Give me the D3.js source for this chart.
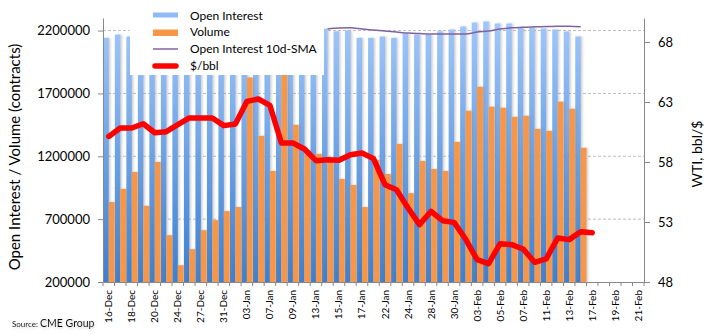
<html>
<head>
<style>
body { margin: 0; background: #fff; }
text { font-family: "Lato", "Open Sans", sans-serif; }
</style>
</head>
<body>
<div id="chart"></div>
<script src="https://d3js.org/d3.v7.min.js"></script>
<script>

// trading days shown on the category axis
var dates = ["16-Dec","17-Dec","18-Dec","19-Dec","20-Dec","23-Dec","24-Dec","26-Dec","27-Dec","30-Dec","31-Dec",
  "02-Jan","03-Jan","06-Jan","07-Jan","08-Jan","09-Jan","10-Jan","13-Jan","14-Jan","15-Jan","16-Jan","17-Jan",
  "21-Jan","22-Jan","23-Jan","24-Jan","27-Jan","28-Jan","29-Jan","30-Jan","31-Jan",
  "03-Feb","04-Feb","05-Feb","06-Feb","07-Feb","10-Feb","11-Feb","12-Feb","13-Feb","14-Feb",
  "17-Feb","18-Feb","19-Feb","20-Feb","21-Feb"]

// contracts, 16-Dec .. 14-Feb
var openInterest = [2142000,2168000,2152000,2160000,2175000,2180000,2150000,2120000,2135000,2150000,2165000,
  2170000,2190000,2185000,2200000,2210000,2205000,2215000,2220000,2213000,2194000,2200000,2142000,
  2142000,2152000,2142000,2174000,2168000,2168000,2194000,2208000,2232000,
  2264000,2272000,2256000,2256000,2224000,2224000,2216000,2208000,2192000,2152000]

var volume = [836000,940000,1075000,806000,1155000,572000,333000,461000,612000,692000,764000,
  796000,1827000,1362000,1083000,1880000,1450000,1250000,1219000,1176000,1019000,971000,796000,
  1171000,1059000,1298000,907000,1163000,1099000,1083000,1314000,1562000,
  1753000,1594000,1586000,1514000,1522000,1418000,1402000,1634000,1578000,1267000]

// 10-day moving average of open interest, 14-Jan .. 14-Feb
var smaStart = 19
var sma = [2213000,2220000,2222000,2212000,2204000,2196000,2188000,2180000,2176000,2173000,2173000,
  2173000,2173000,2188000,2196000,2212000,2222000,2226000,2230000,2232000,2235000,2235000,2230000]

// WTI front month, $/bbl, 16-Dec .. 17-Feb
var price = [60.13,60.83,60.83,61.19,60.44,60.53,61.11,61.67,61.67,61.67,61.03,
  61.17,63.05,63.25,62.72,59.58,59.58,59.08,58.11,58.19,58.14,58.61,58.75,
  58.28,56.11,55.69,54.17,52.78,53.89,53.11,52.97,51.58,
  49.86,49.53,51.19,51.11,50.75,49.64,49.92,51.67,51.53,52.19,52.11]

var leftTicks = [200000,700000,1200000,1700000,2200000]
var rightTicks = [48,53,58,63,68]

var blue1 = "#a2c8fc", blue2 = "#3a7fd0"
var orange = "#f79646"
var purple = "#7f63a1"
var red = "#ff0000"
var axisGrey = "#888"

var W = 712, H = 335
var margin = {top: 18, right: 68, bottom: 53, left: 103}

var svg = d3.select("#chart").append("svg")
  .attr("width", W)
  .attr("height", H)

var defs = svg.append("defs")
var grad = defs.append("linearGradient")
  .attr("id", "oiGrad")
  .attr("gradientUnits", "userSpaceOnUse")
  .attr("x1", 0).attr("x2", 0)
  .attr("y1", margin.top).attr("y2", H - margin.bottom)
grad.append("stop").attr("offset", "0%").attr("stop-color", blue1)
grad.append("stop").attr("offset", "100%").attr("stop-color", blue2)

var shadow = defs.append("filter").attr("id", "barShadow")
  .attr("x", "-20%").attr("y", "-5%").attr("width", "160%").attr("height", "110%")
shadow.append("feDropShadow")
  .attr("dx", 1.5).attr("dy", 0).attr("stdDeviation", 1)
  .attr("flood-color", "#888").attr("flood-opacity", 0.45)

var glow = defs.append("filter").attr("id", "srcGlow")
glow.append("feDropShadow")
  .attr("dx", 1).attr("dy", 1).attr("stdDeviation", 1.5)
  .attr("flood-color", "#999").attr("flood-opacity", 0.6)

var x = d3.scaleBand()
  .domain(dates)
  .range([margin.left, W - margin.right])
  .padding(0)
var bw = x.bandwidth()

var yL = d3.scaleLinear()
  .domain([200000, 2300000])
  .range([H - margin.bottom, margin.top])

var yR = d3.scaleLinear()
  .domain([48, 70])
  .range([H - margin.bottom, margin.top])

// dashed gridlines
svg.append("g").selectAll("line.grid")
  .data(leftTicks.slice(1))
  .enter().append("line")
  .attr("class", "grid")
  .attr("x1", margin.left).attr("x2", W - margin.right)
  .attr("y1", d => yL(d)).attr("y2", d => yL(d))
  .style("stroke", "#bdbdbd")
  .style("stroke-dasharray", "3,2")

// open interest bars (left half of each day)
svg.append("g").attr("filter", "url(#barShadow)")
  .selectAll("rect")
  .data(openInterest)
  .enter().append("rect")
  .attr("x", (d, i) => x(dates[i]) + bw * 0.03)
  .attr("width", bw * 0.47)
  .attr("y", d => yL(d))
  .attr("height", d => yL(200000) - yL(d))
  .attr("fill", "url(#oiGrad)")

// volume bars (right half)
svg.append("g").attr("filter", "url(#barShadow)")
  .selectAll("rect")
  .data(volume)
  .enter().append("rect")
  .attr("x", (d, i) => x(dates[i]) + bw * 0.5)
  .attr("width", bw * 0.5)
  .attr("y", d => yL(d))
  .attr("height", d => yL(200000) - yL(d))
  .attr("fill", orange)

// 10d SMA
var smaLine = d3.line()
  .x((d, i) => x(dates[i + smaStart]) + bw / 2)
  .y(d => yL(d))
  .curve(d3.curveMonotoneX)

svg.append("path")
  .datum(sma)
  .attr("d", smaLine)
  .attr("fill", "none")
  .attr("stroke", purple)
  .attr("stroke-width", 1.5)

// price line on right axis
var priceLine = d3.line()
  .x((d, i) => x(dates[i]) + bw / 2)
  .y(d => yR(d))

svg.append("path")
  .datum(price)
  .attr("d", priceLine)
  .attr("fill", "none")
  .attr("stroke", red)
  .attr("stroke-width", 5.5)
  .attr("stroke-linejoin", "round")
  .attr("stroke-linecap", "round")

// axes
var leftAxis = d3.axisLeft(yL)
  .tickValues(leftTicks)
  .tickFormat(d3.format("d"))
  .tickSize(5)
  .tickSizeOuter(0)
  .tickPadding(8)

var gl = svg.append("g")
  .attr("transform", "translate(" + margin.left + ",0)")
  .call(leftAxis)

var rightAxis = d3.axisRight(yR)
  .tickValues(rightTicks)
  .tickSize(6)
  .tickSizeOuter(0)
  .tickPadding(8)

var gr = svg.append("g")
  .attr("transform", "translate(" + (W - margin.right) + ",0)")
  .call(rightAxis)

var bottomAxis = d3.axisBottom(x)
  .tickValues(dates.filter((d, i) => i % 2 == 0))
  .tickSize(0)
  .tickSizeOuter(0)

var gb = svg.append("g")
  .attr("transform", "translate(0," + (H - margin.bottom) + ")")
  .call(bottomAxis)

gb.selectAll("text")
  .attr("transform", "rotate(-90)")
  .attr("text-anchor", "end")
  .attr("x", -8)
  .attr("y", 0)
  .attr("dy", "0.35em")
  .style("font-size", "10px")

// day boundary ticks
gb.selectAll("line.daytick")
  .data(dates.map(d => x(d)).concat([x.range()[1]]))
  .enter().append("line")
  .attr("class", "daytick")
  .attr("x1", d => d).attr("x2", d => d)
  .attr("y1", 0).attr("y2", 4)

svg.selectAll(".domain, .tick line, .daytick")
  .style("stroke", axisGrey)
  .style("stroke-width", 1)

gl.selectAll("text").style("font-size", "13px").style("fill", "#000")
gr.selectAll("text").style("font-size", "13px").style("fill", "#000")
gb.selectAll("text").style("fill", "#000")

// axis titles
svg.append("text")
  .attr("transform", "translate(20," + 157 + ") rotate(-90)")
  .attr("text-anchor", "middle")
  .style("font-size", "15px")
  .text("Open Interest / Volume (contracts)")

svg.append("text")
  .attr("transform", "translate(702," + 154 + ") rotate(-90)")
  .attr("text-anchor", "middle")
  .style("font-size", "14px")
  .text("WTI, bbl/$")

// legend
var lg = svg.append("g")
lg.append("rect")
  .attr("x", 130).attr("y", 0)
  .attr("width", 194).attr("height", 75)
  .attr("fill", "#fff")

lg.append("rect")
  .attr("x", 153).attr("y", 12.5).attr("width", 25).attr("height", 5)
  .attr("fill", "#8fbaf5")
lg.append("rect")
  .attr("x", 153).attr("y", 29.5).attr("width", 25).attr("height", 6.5)
  .attr("fill", orange)
lg.append("line")
  .attr("x1", 153).attr("x2", 178).attr("y1", 49).attr("y2", 49)
  .attr("stroke", purple).attr("stroke-width", 1.5)
lg.append("line")
  .attr("x1", 155).attr("x2", 176).attr("y1", 66).attr("y2", 66)
  .attr("stroke", red).attr("stroke-width", 5.5).attr("stroke-linecap", "round")

var legendLabels = ["Open Interest", "Volume", "Open Interest 10d-SMA", "$/bbl"]
lg.selectAll("text.leg")
  .data(legendLabels)
  .enter().append("text")
  .attr("class", "leg")
  .attr("x", 190)
  .attr("y", (d, i) => 19.5 + i * 16.8)
  .style("font-size", "12px")
  .text(d => d)

// source note
var src = svg.append("text")
  .attr("x", 12).attr("y", 327)
  .attr("filter", "url(#srcGlow)")
src.append("tspan").style("font-size", "8px").text("Source: ")
src.append("tspan").style("font-size", "10.5px").text("CME Group")

</script>
</body>
</html>
